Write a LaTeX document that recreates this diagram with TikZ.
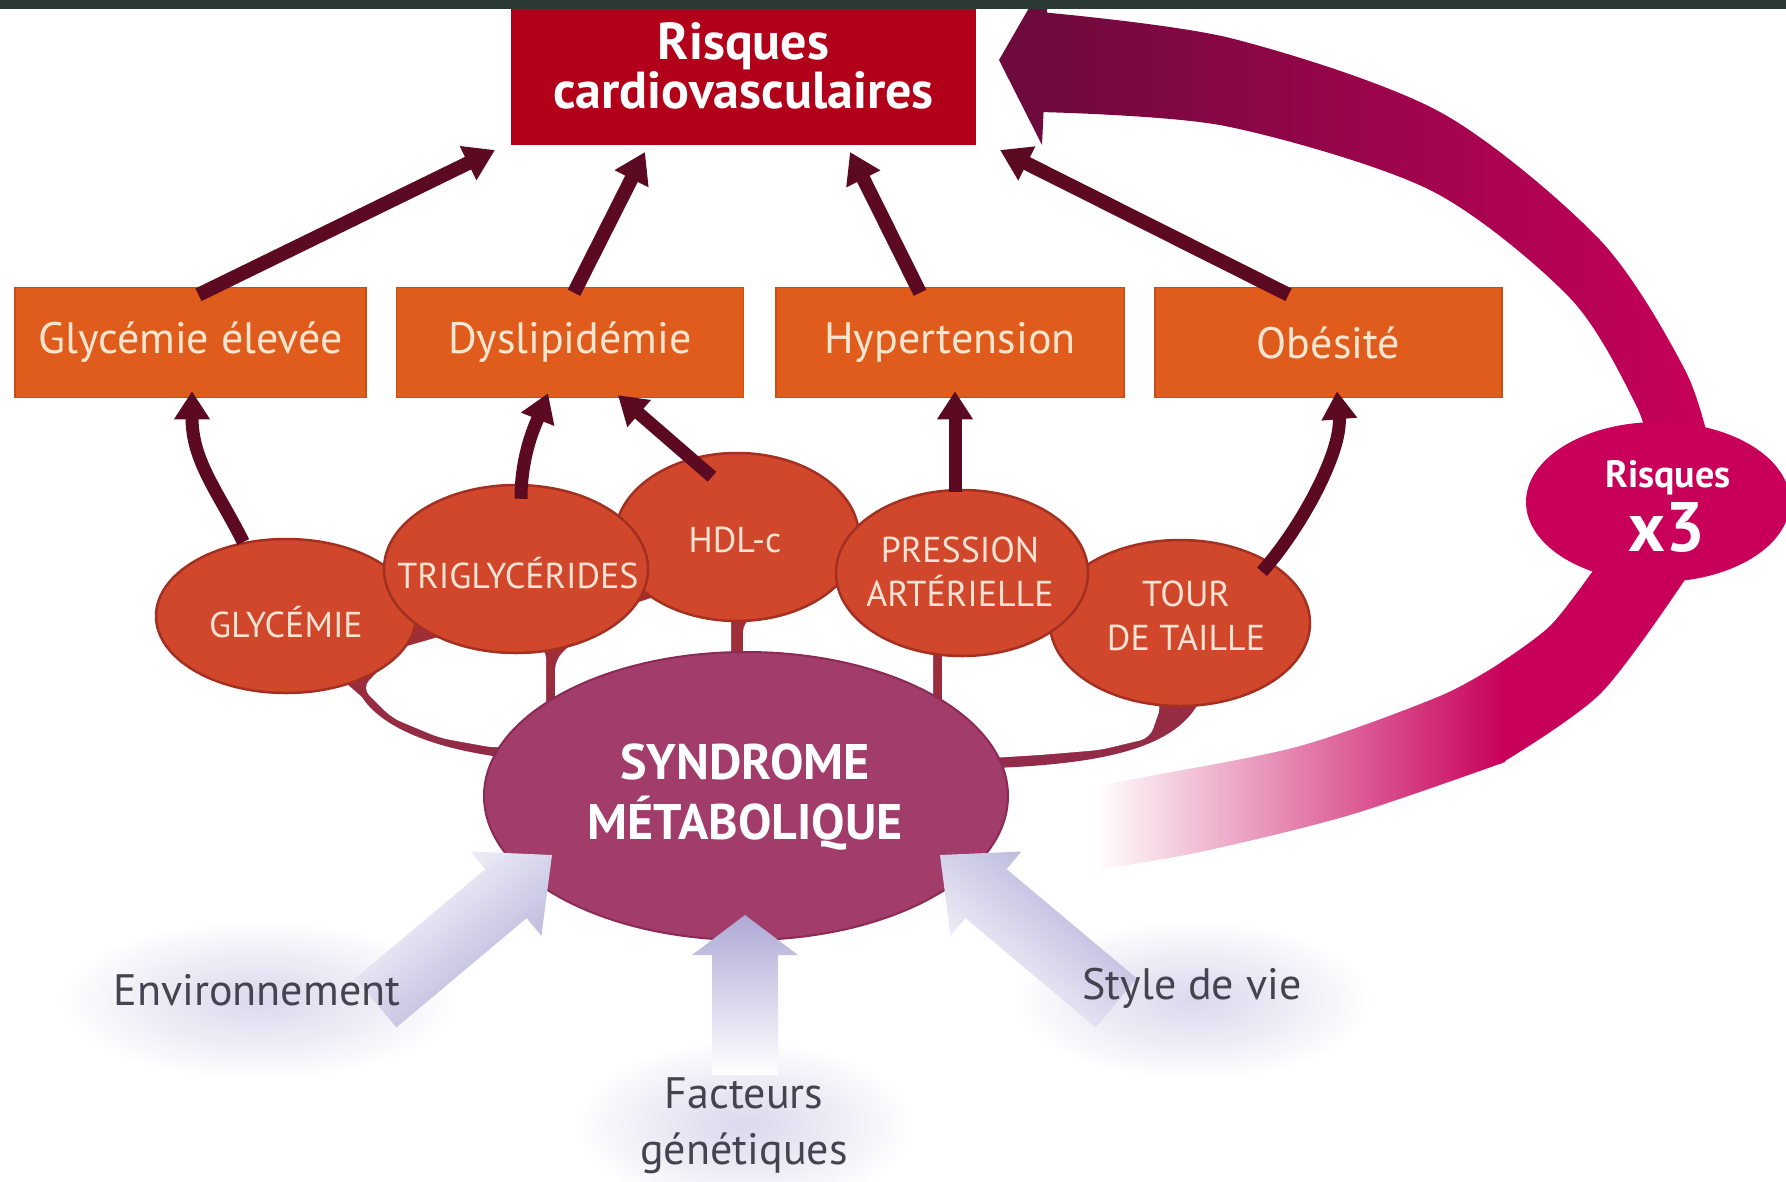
\documentclass[tikz,border=0pt]{standalone}
\usepackage{fontspec}
\setmainfont{PT Sans}
\usetikzlibrary{arrows.meta,shapes.geometric}
\definecolor{barc}{HTML}{2B3A35}
\definecolor{topred}{HTML}{B2001A}
\definecolor{boxor}{HTML}{E05C1C}
\definecolor{boxedge}{HTML}{C84E16}
\definecolor{boxtxt}{HTML}{FDE6D0}
\definecolor{maroon}{HTML}{5C0A22}
\definecolor{bub}{HTML}{D0472B}
\definecolor{bubedge}{HTML}{A33020}
\definecolor{bubtxt}{HTML}{FBE3D3}
\definecolor{synd}{HTML}{A23C6B}
\definecolor{syndedge}{HTML}{8A2A55}
\definecolor{mag}{HTML}{C8005A}
\definecolor{arcdark}{HTML}{6E0A3C}
\definecolor{lav}{HTML}{AEAAD6}
\definecolor{labtxt}{HTML}{45434F}
\definecolor{webtop}{HTML}{A8302C}
\definecolor{webbot}{HTML}{8C2A50}
\colorlet{glowA}{lav!45!white}
\colorlet{glowB}{lav!25!white}
\pgfdeclareradialshading{glowsh}{\pgfpoint{0bp}{0bp}}{color(0bp)=(glowA); color(12bp)=(glowB); color(25bp)=(white); color(50bp)=(white)}
\tikzset{
  orbox/.style={rectangle, fill=boxor, draw=boxedge, line width=1.5pt, minimum width=348pt, minimum height=110pt, text=boxtxt, font=\fontsize{44}{50}\selectfont, inner sep=0pt},
  bubble/.style={ellipse, fill=bub, draw=bubedge, line width=2.5pt, inner sep=0pt},
  bubtext/.style={text=bubtxt, font=\fontsize{36}{44}\selectfont, align=center, inner sep=0pt},
  uparr/.style={draw=maroon, line width=13pt, -{Triangle[width=34pt,length=28pt]}},
  toparr/.style={draw=maroon, line width=14pt, -{Triangle[width=36pt,length=30pt]}},
  labtext/.style={text=labtxt, font=\fontsize{44}{56}\selectfont, align=center, inner sep=0pt},
  hole/.style={fill=white, rounded corners=10pt}
}
\begin{document}
\begin{tikzpicture}[x=1pt,y=-1pt]
\useasboundingbox (0,0) rectangle (1786,1181);
\fill[white] (0,0) rectangle (1786,1181);

% glows behind labels
\shade[shading=glowsh] (259,1000) ellipse [x radius=200, y radius=80];
\shade[shading=glowsh] (1193,1000) ellipse [x radius=180, y radius=80];
\shade[shading=glowsh] (744,1125) ellipse [x radius=170, y radius=85];

% web connecting bubbles to syndrome
\shade[top color=webtop, bottom color=webbot] (286,630) -- (362,697) .. controls (378,722) and (420,746) .. (500,757) -- (520,780) -- (746,810) -- (985,780) -- (995,768) .. controls (1090,764) and (1175,752) .. (1200,700) -- (1180,640) -- (962,590) -- (737,550) -- (516,580) -- cycle;
\fill[hole] (362,688) -- (400,648) -- (470,628) -- (546,648) -- (546,712) -- (520,745) -- (495,748) -- (440,738) -- (392,718) -- cycle;
\fill[hole] (555,715) -- (555,660) -- (600,615) -- (660,595) -- (731,606) -- (731,715) -- cycle;
\fill[hole] (743,715) -- (743,622) -- (790,598) -- (850,585) -- (905,612) -- (933,640) -- (933,715) -- cycle;
\fill[hole] (942,725) -- (942,648) -- (990,622) -- (1060,618) -- (1110,668) -- (1162,703) -- (1150,738) -- (1100,750) -- (1040,755) -- (990,758) -- cycle;

% bubbles
\node[bubble, minimum width=260pt, minimum height=154pt] (gly) at (286,616) {};
\node[bubble, minimum width=244pt, minimum height=168pt] (hdl) at (737,537) {};
\node[bubble, minimum width=260pt, minimum height=166pt] (tou) at (1180,623) {};
\node[bubble, minimum width=264pt, minimum height=168pt] (tri) at (516,569) {};
\node[bubble, minimum width=252pt, minimum height=166pt] (pre) at (962,573) {};
\node[bubtext] (glyT) at (286,622) {GLYCÉMIE};
\node[bubtext] (triT) at (518,573) {TRIGLYCÉRIDES};
\node[bubtext] (hdlT) at (735,540) {HDL-c};
\node[bubtext] (preT) at (960,572) {PRESSION\\ARTÉRIELLE};
\node[bubtext] (touT) at (1186,616) {TOUR\\DE TAILLE};

% syndrome
\node[ellipse, fill=synd, draw=syndedge, line width=2pt, inner sep=0pt, minimum width=524pt, minimum height=288pt] (syn) at (746,796) {};
\node[text=white, font=\bfseries\fontsize{50}{60}\selectfont, align=center, inner sep=0pt] (synT) at (745,797) {SYNDROME\\MÉTABOLIQUE};

% lavender arrows
\shade[left color=white, right color=lav, shading angle=40] (552,855) -- (541.4,935.7) -- (526.6,918.1) -- (396.4,1027.4) -- (355.2,978.4) -- (485.4,869.1) -- (470.6,851.5) -- cycle;
\shade[left color=white, right color=lav, shading angle=140] (940,855) -- (950.6,935.7) -- (965.4,918.1) -- (1095.6,1027.4) -- (1136.8,978.4) -- (1006.6,869.1) -- (1021.4,851.5) -- cycle;
\shade[top color=lav, bottom color=white] (745,915) -- (798,955) -- (778,955) -- (778,1075) -- (712,1075) -- (712,955) -- (692,955) -- cycle;

\node[labtext] (env) at (257,990) {Environnement};
\node[labtext] (sty) at (1192,988) {Style de vie};
\node[labtext] (fac) at (744,1126) {Facteurs\\génétiques};

% big pink arc
\shade[left color=white, right color=mag] plot[smooth] coordinates {(1095,786) (1150,776) (1300,746) (1440,696) (1505,660)} -- plot[smooth] coordinates {(1505,762) (1350,815) (1200,852) (1095,870)} -- cycle;
\fill[mag] plot[smooth] coordinates {(1500,663) (1551,625) (1597,565)} -- plot[smooth] coordinates {(1688,575) (1601,693) (1500,764)} -- cycle;
\shade[left color=arcdark, right color=mag] plot[smooth] coordinates {(1040,12) (1230,38) (1440,112) (1600,240) (1685,370) (1712,455)} -- plot[smooth] coordinates {(1650,455) (1636,405) (1570,298) (1430,190) (1225,126) (1040,112)} -- cycle;
\fill[arcdark] (1048,-25) -- (999,60) -- (1042,145) -- (1046,60) -- cycle;
\node[ellipse, fill=mag, inner sep=0pt, minimum width=264pt, minimum height=160pt] (x3) at (1658,502) {};
\node[text=white, font=\bfseries\fontsize{38}{44}\selectfont, inner sep=0pt] (x3a) at (1668,478) {Risques};
\node[text=white, font=\bfseries\fontsize{70}{72}\selectfont, inner sep=0pt] (x3b) at (1667,527) {x3};

% boxes
\node[rectangle, fill=topred, inner sep=0pt, minimum width=465pt, minimum height=157pt, text=white, font=\bfseries\fontsize{52}{49}\selectfont, align=center] (risk) at (743.5,66) {Risques\\cardiovasculaires};
\node[orbox, minimum width=351pt] (gbox) at (190.5,342.5) {Glycémie élevée};
\node[orbox, minimum width=347pt] (dbox) at (570,342.5) {Dyslipidémie};
\node[orbox] (hbox) at (950,342.5) {Hypertension};
\node[orbox, minimum width=347pt] (obox) at (1328.5,342.5) {Obésité};

\coordinate (t1) at (495,150);
\coordinate (t2) at (645,152);
\coordinate (t3) at (850,152);
\coordinate (t4) at (1000,150);
\draw[toparr] ([xshift=8pt,yshift=-8pt]gbox.north) -- (t1);
\draw[toparr] ([xshift=4pt,yshift=-6pt]dbox.north) -- (t2);
\draw[toparr] ([xshift=-30pt,yshift=-6pt]hbox.north) -- (t3);
\draw[toparr] ([xshift=-40pt,yshift=-8pt]obox.north) -- (t4);

\draw[uparr] (gly.120) .. controls +(-25,-50) and +(0,70) .. ([xshift=1.5pt,yshift=7pt]gbox.south);
\draw[uparr] ([xshift=5pt,yshift=-15pt]tri.north) .. controls +(0,-45) and +(-12,30) .. ([xshift=-22pt,yshift=5pt]dbox.south);
\draw[uparr] ([xshift=-25pt,yshift=-25pt]hdl.north) -- ([xshift=48pt,yshift=3pt]dbox.south);
\draw[uparr] ([xshift=-7pt,yshift=-3pt]pre.north) -- ([xshift=5pt,yshift=7pt]hbox.south);
\draw[uparr] ([xshift=82pt,yshift=-33pt]tou.north) .. controls +(40,-45) and +(5,60) .. ([xshift=8.5pt,yshift=7pt]obox.south);

\fill[barc] (0,0) rectangle (1786,9);
\end{tikzpicture}
\end{document}
